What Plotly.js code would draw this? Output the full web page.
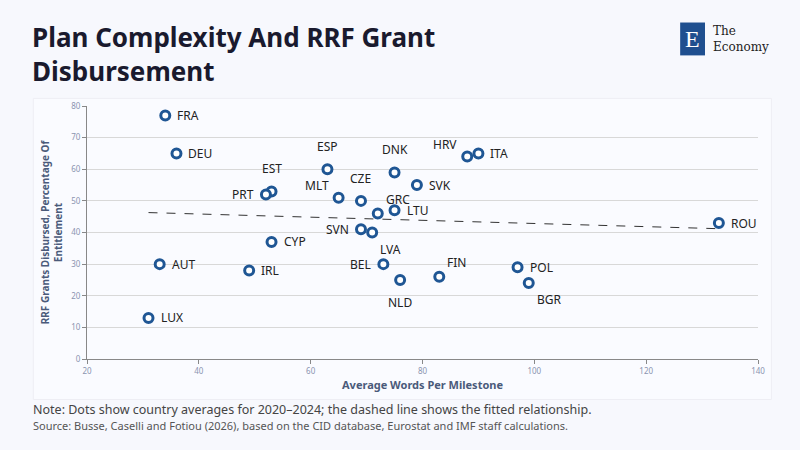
<!DOCTYPE html><html><head><script src="https://cdn.plot.ly/plotly-3.0.1.min.js"></script>
<style>body{margin:0;background:#f7f8fd}</style></head><body><div id="c" style="width:800px;height:450px"></div>
<script>
const countries=["FRA","DEU","EST","PRT","ESP","MLT","CZE","GRC","DNK","LTU","SVK","HRV","ITA","SVN","LVA","CYP","AUT","IRL","BEL","NLD","FIN","POL","BGR","LUX","ROU"];
const words=[34,36,53,52,63,65,69,72,75,75,79,88,90,69,71,53,33,49,73,76,83,97,99,31,133];
const grants=[77,65,53,52,60,51,50,46,59,47,55,64,65,41,40,37,30,28,30,25,26,29,24,13,43];
const labelPos=["right","right","top","left","top","topleft","top","topright","top","right","right","topleft","right","left","bottomright","right","right","right","left","bottom","topright","right","bottomright","right","right"];
const trendX=[31,133], trendY=[46.3,41.2];
const xTicks=[20,40,60,80,100,120,140], yTicks=[0,10,20,30,40,50,60,70,80];
const off={right:[10,0,'left','middle'],left:[-10,0,'right','middle'],top:[0,12,'center','bottom'],bottom:[0,-12,'center','top'],
 topleft:[-8,2,'right','bottom'],topright:[6,4,'left','bottom'],bottomright:[6,-6,'left','top']};
const labs=countries.map((c,i)=>{const o=off[labelPos[i]];return {x:words[i],y:grants[i],text:c,showarrow:false,xshift:o[0],yshift:o[1],xanchor:o[2],yanchor:o[3],font:{family:'Noto Sans',size:12,color:'#222'}};});
Plotly.newPlot('c',[
{x:trendX,y:trendY,mode:'lines',line:{dash:'dash',color:'#333',width:1},hoverinfo:'skip'},
{x:words,y:grants,mode:'markers',marker:{size:9,color:'#fff',line:{color:'#1f5694',width:3}}}
],{
width:800,height:450,showlegend:false,paper_bgcolor:'#f7f8fd',plot_bgcolor:'rgba(0,0,0,0)',
margin:{l:87,r:42,t:106,b:91},
xaxis:{range:[20,140],tickvals:xTicks,showgrid:false,showline:true,linecolor:'#888',ticks:'outside',ticklen:4,tickcolor:'#888',zeroline:false,
 tickfont:{family:'Noto Sans',size:8,color:'#8a94b0'},title:{text:'Average Words Per Milestone',standoff:6,font:{family:'Noto Sans',size:11,color:'#4a5a7a',weight:'bold'}}},
yaxis:{range:[0,80],tickvals:yTicks,showgrid:true,gridcolor:'#d8d8d8',showline:true,linecolor:'#888',ticks:'outside',ticklen:4,tickcolor:'#888',zeroline:false,
 tickfont:{family:'Noto Sans',size:8,color:'#8a94b0'},title:{text:'RRF Grants Disbursed, Percentage Of<br>Entitlement',standoff:6,font:{family:'Noto Sans',size:10,color:'#4a5a7a',weight:'bold'}}},
shapes:[{type:'rect',xref:'paper',yref:'paper',x0:-0.08,x1:1.02,y0:-0.16,y1:1.03,fillcolor:'#fafbff',line:{color:'#eeeef4',width:1},layer:'below'},
{type:'rect',xref:'paper',yref:'paper',x0:0.884,x1:0.921,y0:1.20,y1:1.33,fillcolor:'#1f4f8f',line:{width:0},layer:'below'}],
annotations:labs.concat([
{xref:'paper',yref:'paper',x:-0.085,y:1.35,xanchor:'left',yanchor:'top',align:'left',showarrow:false,text:'<b>Plan Complexity And RRF Grant<br>Disbursement</b>',font:{family:'Noto Sans',size:26,color:'#1a1a2e'}},
{xref:'paper',yref:'paper',x:0.9025,y:1.265,xanchor:'center',yanchor:'middle',showarrow:false,text:'E',font:{family:'Liberation Serif',size:24,color:'#ffffff'}},
{xref:'paper',yref:'paper',x:0.93,y:1.265,xanchor:'left',yanchor:'middle',showarrow:false,align:'left',text:'The<br>Economy',font:{family:'DejaVu Serif',size:12,color:'#222'}},
{xref:'paper',yref:'paper',x:-0.083,y:-0.16,xanchor:'left',yanchor:'top',align:'left',showarrow:false,text:'Note: Dots show country averages for 2020–2024; the dashed line shows the fitted relationship.',font:{family:'Noto Sans',size:12.5,color:'#444'}},
{xref:'paper',yref:'paper',x:-0.083,y:-0.225,xanchor:'left',yanchor:'top',align:'left',showarrow:false,text:'Source: Busse, Caselli and Fotiou (2026), based on the CID database, Eurostat and IMF staff calculations.',font:{family:'Noto Sans',size:11,color:'#555'}}
])},{displayModeBar:false});
</script></body></html>
